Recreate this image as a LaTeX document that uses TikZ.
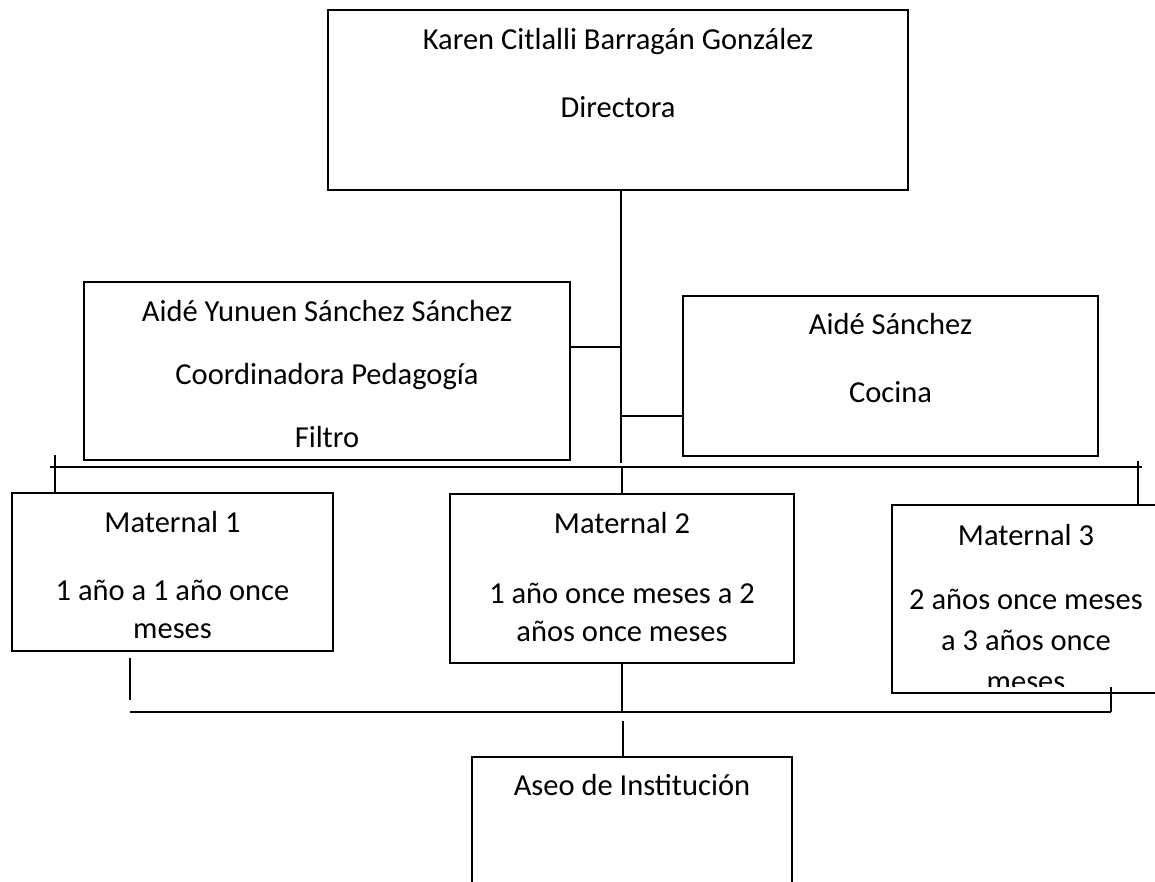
\documentclass[tikz,border=0pt]{standalone}
\usepackage{fontspec}
\setmainfont{Carlito}
\usetikzlibrary{positioning}
\newcommand\orgfont{\fontsize{30.5}{38}\selectfont}

\begin{document}
\begin{tikzpicture}[x=1pt,y=-1pt,
  orgbox/.style={draw,line width=1.5pt,inner sep=0pt,outer sep=0pt,anchor=north west},
  txt/.style={anchor=north,align=center,inner sep=0pt,font=\orgfont},
  link/.style={line width=1.5pt}]
  \useasboundingbox (0,0) rectangle (1155,881);

  \node (dir) [orgbox,minimum width=580pt,minimum height=180pt] at (328,10) {};
  \node (dir-t) [txt,below=12.4pt of dir.north] {\strut Karen Citlalli Barragán González\\[30pt]Directora};

  \node (coord) [orgbox,minimum width=486pt,minimum height=178pt] at (84,282) {};
  \node (coord-t) [txt,below=12.4pt of coord.north] {\strut Aidé Yunuen Sánchez Sánchez\\[25pt]Coordinadora Pedagogía\\[25pt]Filtro};

  \node (cocina) [orgbox,minimum width=415pt,minimum height=160pt] at (683,296) {};
  \node (cocina-t) [txt,below=11.4pt of cocina.north] {\strut Aidé Sánchez\\[30pt]Cocina};

  \node (mat1) [orgbox,minimum width=321pt,minimum height=158pt] at (12,493) {};
  \node (mat1-t) [txt,below=12.4pt of mat1.north] {\strut Maternal 1\\[30pt]1 año a 1 año once\\meses};

  \node (mat2) [orgbox,minimum width=344pt,minimum height=169pt] at (450,494) {};
  \node (mat2-t) [txt,below=12.4pt of mat2.north] {\strut Maternal 2\\[32pt]1 año once meses a 2\\años once meses};

  \node (mat3) [orgbox,minimum width=268pt,minimum height=188pt] at (892,505) {};
  \begin{scope}
    \clip ([yshift=7pt]mat3.south west) rectangle (mat3.north east);
    \node (mat3-t) [txt,below=13.4pt of mat3.north] {\strut Maternal 3\\[26pt]2 años once meses\\[3pt]a 3 años once\\[3pt]meses};
  \end{scope}

  \node (aseo) [orgbox,minimum width=320pt,minimum height=200pt] at (472,757) {};
  \node (aseo-t) [txt,below=11.4pt of aseo.north] {\strut Aseo de Institución};

  \coordinate (trunk) at (621,463);
  \coordinate (c-l) at (621,347);
  \coordinate (c-r) at (621,416);
  \coordinate (bus-w) at (50,467);
  \coordinate (bus-e) at (1142,467);
  \coordinate (t-l) at (55,455);
  \coordinate (t-r) at (1138,461);
  \coordinate (d-l) at (130,658);
  \coordinate (d-l2) at (130,700);
  \coordinate (bus2-w) at (130,712);
  \coordinate (bus2-e) at (1111,712);
  \coordinate (d-r) at (1111,687);
  \coordinate (up-a) at (623,721);

  \draw [link] (dir.south -| trunk) -- (trunk);
  \draw [link] (coord.east |- c-l) -- (c-l);
  \draw [link] (c-r) -- (cocina.west |- c-r);
  \draw [link] (bus-w) -- (bus-e);
  \draw [link] (t-l) -- (t-l |- mat1.north);
  \draw [link] (t-r) -- (t-r |- mat3.north);
  \draw [link] (bus-w -| mat2.north) -- (mat2.north);

  \draw [link] (d-l) -- (d-l2);
  \draw [link] (bus2-w) -- (bus2-e);
  \draw [link] (bus2-e) -- (d-r);
  \draw [link] (mat2.south) -- (mat2.south |- bus2-w);
  \draw [link] (up-a) -- (up-a |- aseo.north);
\end{tikzpicture}
\end{document}
